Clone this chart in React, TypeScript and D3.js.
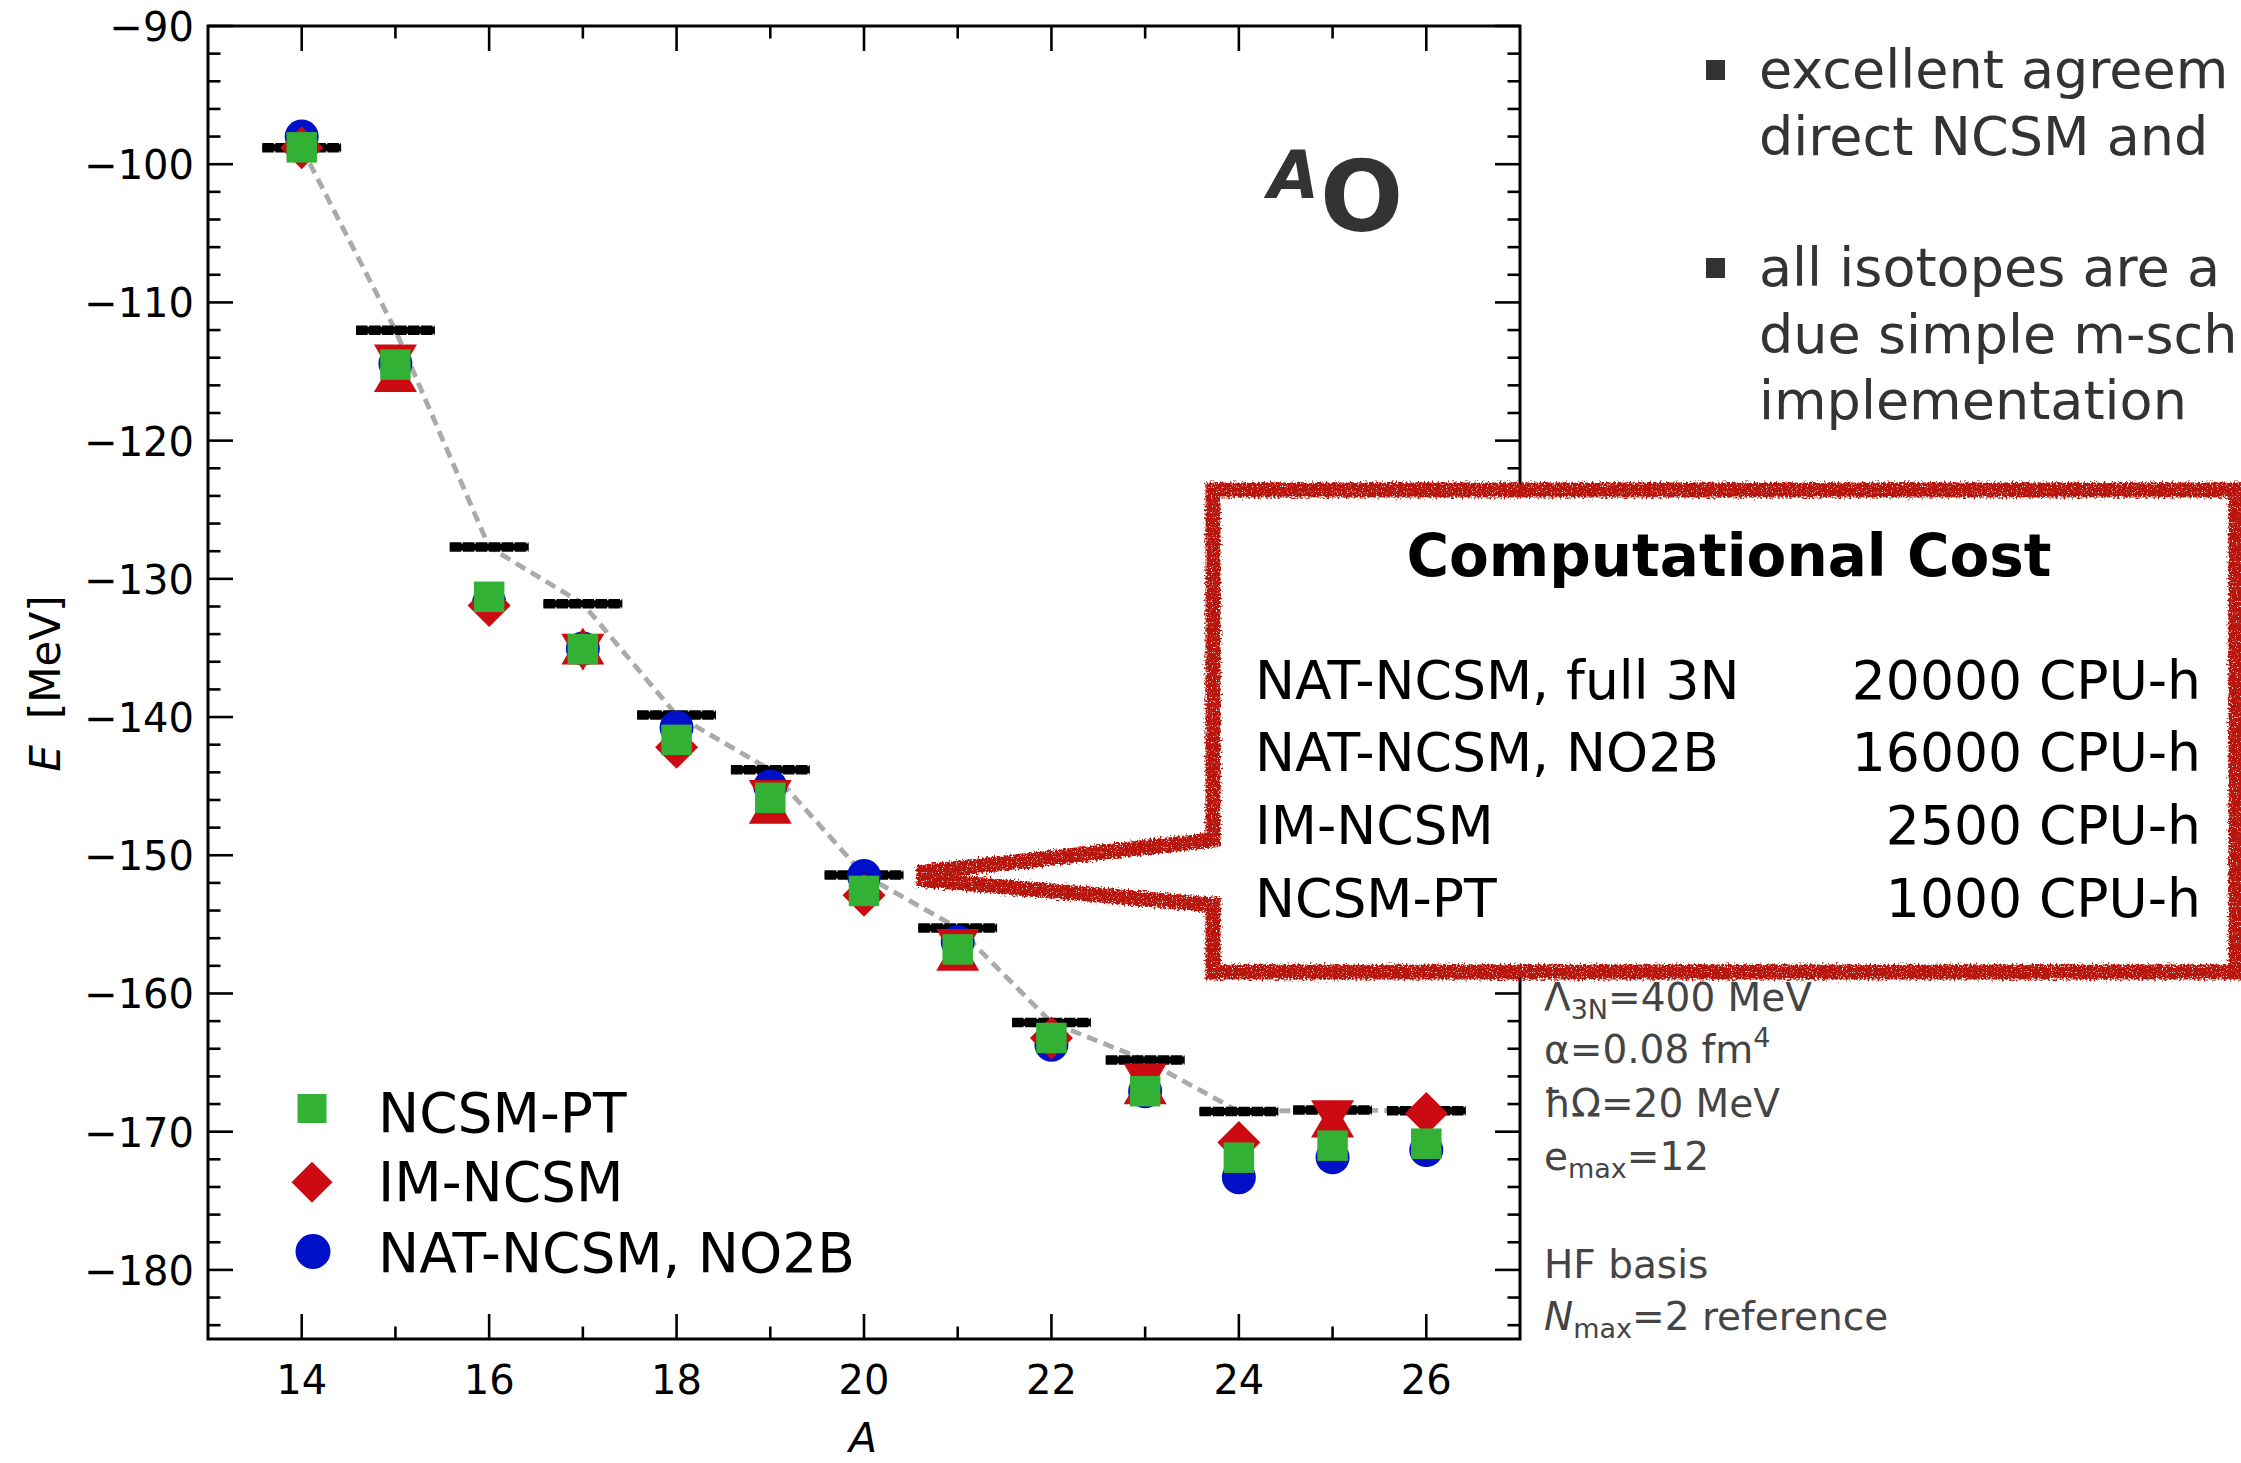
import React from "react";
import * as d3 from "d3";

// Oxygen isotope chain: ground-state energies E [MeV] vs. mass number A
const massNumbers = [14, 15, 16, 17, 18, 19, 20, 21, 22, 23, 24, 25, 26];
const referenceEnergies = [-98.81, -112.01, -127.7, -131.8, -139.86, -143.82, -151.43, -155.26, -162.1, -164.82, -168.54, -168.44, -168.49];
const natNcsmNo2b = [-97.99, -114.42, -131.7, -135.04, -140.76, -145.03, -151.5, -156.28, -163.71, -167.07, -173.3, -171.85, -171.32];
const ncsmPt = [-98.78, -114.5, -131.3, -135.09, -141.65, -145.84, -152.58, -156.81, -163.22, -167.07, -171.88, -171.01, -170.87];
// IM-NCSM: even A as diamonds, odd A as a pair of down / up triangles
const imNcsmDiamond: (number | null)[] = [-98.81, null, -131.93, null, -142.19, null, -152.89, null, -163.23, null, -170.79, null, -168.69];
const imNcsmDown: (number | null)[] = [null, -114.39, null, -135.31, null, -145.89, null, -156.68, null, -166.41, null, -169.06, null];
const imNcsmUp: (number | null)[] = [null, -115.14, null, -134.86, null, -146.39, null, -157.02, null, -166.67, null, -169.09, null];

const xMajorTicks = [14, 16, 18, 20, 22, 24, 26];
const xMinorTicks = [15, 17, 19, 21, 23, 25];
const yMajorTicks = [-90, -100, -110, -120, -130, -140, -150, -160, -170, -180];
const yMinorTicks = d3.range(-92, -185, -2).filter((v) => v % 10 !== 0);

const legendLabels = ["NCSM-PT", "IM-NCSM", "NAT-NCSM, NO2B"];

const costMethods = ["NAT-NCSM, full 3N", "NAT-NCSM, NO2B", "IM-NCSM", "NCSM-PT"];
const costHours = [20000, 16000, 2500, 1000];

const bulletLines = [
  ["excellent agreem", "direct NCSM and"],
  ["all isotopes are a", "due simple m-sch", "implementation"],
];

const GREEN = "#33b135";
const RED = "#cc0a12";
const BLUE = "#0010c8";
const CALLOUT = "#b8190b";

const W = 2241;
const H = 1463;
const plot = { left: 208, right: 1520, top: 26, bottom: 1339 };

const x = d3.scaleLinear().domain([13, 27]).range([plot.left, plot.right]);
const y = d3.scaleLinear().domain([-90, -185]).range([plot.top, plot.bottom]);

const fmt = (v: number) => d3.format("d")(v).replace("-", "\u2212");

const SQ = 30.5; // square side
const CR = 17; // circle radius
const DH = 21.5; // diamond half-diagonal
const TW = 21.5; // triangle half-width
const TH = 18.5; // triangle half-height

const diamondPath = (cx: number, cy: number, h = DH) =>
  `M${cx},${cy - h}L${cx + h},${cy}L${cx},${cy + h}L${cx - h},${cy}Z`;
const triDownPath = (cx: number, cy: number) =>
  `M${cx - TW},${cy - TH}L${cx + TW},${cy - TH}L${cx},${cy + TH}Z`;
const triUpPath = (cx: number, cy: number) =>
  `M${cx},${cy - TH}L${cx + TW},${cy + TH}L${cx - TW},${cy + TH}Z`;

export default function App() {
  const refLine = d3
    .line<number>()
    .x((_, i) => x(massNumbers[i]))
    .y((d) => y(d))(referenceEnergies) as string;

  const majorLen = 25;
  const minorLen = 12.5;

  // callout geometry, pointing at the A = 20 result
  const box = { left: 1213, right: 2236, top: 490, bottom: 972 };
  const tip = { x: x(20) + 60, y: y(-151.5) };
  const calloutPath = `M${box.left},${box.top + 350}L${tip.x},${tip.y - 4}L${tip.x},${tip.y + 4}L${box.left},${box.top + 415}L${box.left},${box.bottom}L${box.right},${box.bottom}L${box.right},${box.top}L${box.left},${box.top}Z`;

  return (
    <svg
      width={W}
      height={H}
      viewBox={`0 0 ${W} ${H}`}
      style={{ position: "absolute", left: 0, top: 0, background: "#fff", overflow: "hidden" }}
      fontFamily="'DejaVu Sans', sans-serif"
    >
      <defs>
        <filter id="chalk" x="-5%" y="-10%" width="110%" height="120%">
          <feTurbulence type="fractalNoise" baseFrequency="0.5" numOctaves="2" seed="7" result="noise" />
          <feDisplacementMap in="SourceGraphic" in2="noise" scale="9" xChannelSelector="R" yChannelSelector="G" result="disp" />
          <feTurbulence type="fractalNoise" baseFrequency="0.8" numOctaves="1" seed="3" result="grain" />
          <feColorMatrix in="grain" type="matrix" values="0 0 0 0 0  0 0 0 0 0  0 0 0 0 0  0 0 0 -8 6" result="mask" />
          <feComposite in="disp" in2="mask" operator="in" />
        </filter>
      </defs>
      <rect x={0} y={0} width={W} height={H} fill="#fff" />

      {/* reference line */}
      <path d={refLine} fill="none" stroke="#aaaaaa" strokeWidth={4.8} strokeDasharray="11 6.5" />

      {/* reference bars */}
      {massNumbers.map((a, i) => (
        <g key={`bar${a}`}>
          <line x1={x(a - 0.42)} x2={x(a + 0.42)} y1={y(referenceEnergies[i])} y2={y(referenceEnergies[i])} stroke="#000" strokeWidth={7} />
          <line x1={x(a - 0.42)} x2={x(a + 0.42)} y1={y(referenceEnergies[i])} y2={y(referenceEnergies[i])} stroke="#000" strokeWidth={9.5} strokeDasharray="11.5 1.5" />
        </g>
      ))}

      {/* NAT-NCSM, NO2B */}
      {massNumbers.map((a, i) => (
        <circle key={`nat${a}`} cx={x(a)} cy={y(natNcsmNo2b[i])} r={CR} fill={BLUE} />
      ))}

      {/* IM-NCSM */}
      {massNumbers.map((a, i) => (
        <g key={`im${a}`} fill={RED}>
          {imNcsmDiamond[i] !== null && <path d={diamondPath(x(a), y(imNcsmDiamond[i] as number))} />}
          {imNcsmDown[i] !== null && <path d={triDownPath(x(a), y(imNcsmDown[i] as number))} />}
          {imNcsmUp[i] !== null && <path d={triUpPath(x(a), y(imNcsmUp[i] as number))} />}
        </g>
      ))}

      {/* NCSM-PT */}
      {massNumbers.map((a, i) => (
        <rect key={`pt${a}`} x={x(a) - SQ / 2} y={y(ncsmPt[i]) - SQ / 2} width={SQ} height={SQ} fill={GREEN} />
      ))}

      {/* axes frame and ticks */}
      <g stroke="#000" strokeWidth={2.6}>
        {xMajorTicks.map((t) => (
          <g key={`xt${t}`}>
            <line x1={x(t)} x2={x(t)} y1={plot.bottom} y2={plot.bottom - majorLen} />
            <line x1={x(t)} x2={x(t)} y1={plot.top} y2={plot.top + majorLen} />
          </g>
        ))}
        {xMinorTicks.map((t) => (
          <g key={`xm${t}`}>
            <line x1={x(t)} x2={x(t)} y1={plot.bottom} y2={plot.bottom - minorLen} />
            <line x1={x(t)} x2={x(t)} y1={plot.top} y2={plot.top + minorLen} />
          </g>
        ))}
        {yMajorTicks.map((t) => (
          <g key={`yt${t}`}>
            <line x1={plot.left} x2={plot.left + majorLen} y1={y(t)} y2={y(t)} />
            <line x1={plot.right} x2={plot.right - majorLen} y1={y(t)} y2={y(t)} />
          </g>
        ))}
        {yMinorTicks.map((t) => (
          <g key={`ym${t}`}>
            <line x1={plot.left} x2={plot.left + minorLen} y1={y(t)} y2={y(t)} />
            <line x1={plot.right} x2={plot.right - minorLen} y1={y(t)} y2={y(t)} />
          </g>
        ))}
        <rect x={plot.left} y={plot.top} width={plot.right - plot.left} height={plot.bottom - plot.top} fill="none" strokeWidth={3} />
      </g>

      {/* tick labels */}
      <g fontSize={40} fill="#000">
        {xMajorTicks.map((t) => (
          <text key={`xl${t}`} x={x(t)} y={1394} textAnchor="middle">{fmt(t)}</text>
        ))}
        {yMajorTicks.map((t) => (
          <text key={`yl${t}`} x={194} y={y(t) + 15} textAnchor="end">{fmt(t)}</text>
        ))}
      </g>

      {/* axis titles */}
      <text x={863} y={1452} fontSize={41} fontStyle="italic" textAnchor="middle">A</text>
      <text transform="translate(60,683.5) rotate(-90)" fontSize={42} textAnchor="middle">
        <tspan fontStyle="italic">E</tspan>
        <tspan dx={26}>[MeV]</tspan>
      </text>

      {/* nucleus label */}
      <text x={1268} y={198} fontSize={66} fontWeight="bold" fontStyle="italic" fill="#333">A</text>
      <text x={1320} y={231} fontSize={98} fontWeight="bold" fill="#333">O</text>

      {/* legend */}
      <g>
        <rect x={312 - 14.5} y={1108.5 - 14.5} width={29} height={29} fill={GREEN} />
        <path d={diamondPath(312, 1182.3, 20.5)} fill={RED} />
        <circle cx={313} cy={1251.5} r={17.5} fill={BLUE} />
        {legendLabels.map((l, i) => (
          <text key={l} x={378} y={[1132, 1200.5, 1272][i]} fontSize={55}>{l}</text>
        ))}
      </g>

      {/* parameters */}
      <g fontSize={39} fill="#444">
        <text x={1544} y={1010.7}>
          Λ<tspan fontSize={27} dy={8}>3N</tspan><tspan dy={-8}>=400 MeV</tspan>
        </text>
        <text x={1544} y={1063.3}>
          α=0.08 fm<tspan fontSize={27} dy={-16}>4</tspan>
        </text>
        <text x={1544} y={1116.7}>ħΩ=20 MeV</text>
        <text x={1544} y={1170}>
          e<tspan fontSize={27} dy={8}>max</tspan><tspan dy={-8}>=12</tspan>
        </text>
        <text x={1544} y={1278.3}>HF basis</text>
        <text x={1544} y={1330}>
          <tspan fontStyle="italic">N</tspan><tspan fontSize={27} dy={8}>max</tspan><tspan dy={-8}>=2 reference</tspan>
        </text>
      </g>

      {/* bullet list */}
      <g fontSize={54} fill="#333">
        {bulletLines.map((lines, b) => {
          const first = [88, 286][b];
          return (
            <g key={`b${b}`}>
              <rect x={1706} y={first - 28} width={19} height={20} fill="#333" />
              {lines.map((ln, j) => (
                <text key={ln} x={1759} y={first + j * 66.5}>{ln}</text>
              ))}
            </g>
          );
        })}
      </g>

      {/* computational cost callout */}
      <path d={calloutPath} fill="#fff" stroke="none" />
      <path d={calloutPath} fill="none" stroke={CALLOUT} strokeWidth={15} strokeLinejoin="miter" filter="url(#chalk)" />
      <text x={1729} y={576} fontSize={58} fontWeight="bold" textAnchor="middle">Computational Cost</text>
      <g fontSize={53.5}>
        {costMethods.map((m, i) => (
          <g key={m}>
            <text x={1255} y={698.5 + i * 72.7}>{m}</text>
            <text x={2201} y={698.5 + i * 72.7} textAnchor="end">{`${costHours[i]} CPU-h`}</text>
          </g>
        ))}
      </g>
    </svg>
  );
}
